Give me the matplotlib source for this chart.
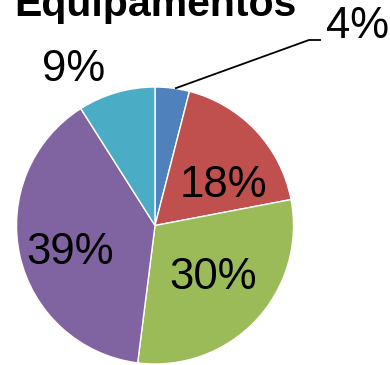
import matplotlib
matplotlib.use("Agg")
import matplotlib.pyplot as plt
import numpy as np

# data
categories = ["A", "B", "C", "D", "E"]
shares = [4, 18, 30, 39, 9]
labels = ["4%", "18%", "30%", "39%", "9%"]
colors = ["#4F81BD", "#C0504D", "#9BBB59", "#8064A2", "#4BACC6"]
title = "Equipamentos"

W, H = 390, 365
fig = plt.figure(figsize=(W / 100, H / 100), dpi=100)
ax = fig.add_axes([0, 0, 1, 1])

cx, cy, R = 155, H - 225.5, 138.5
wedges, _ = ax.pie(shares, colors=colors, startangle=90, counterclock=False,
                   center=(cx, cy), radius=R, frame=True,
                   wedgeprops=dict(edgecolor="white", linewidth=1))
ax.set_xlim(0, W)
ax.set_ylim(0, H)
ax.set_aspect("equal")
ax.axis("off")

font = ["Liberation Sans", "DejaVu Sans"]
# label placement: (distance as fraction of radius, angle in degrees)
place = [None, (0.57, 30.5), (0.56, -42), (0.64, 197.5), (1.27, 117.5)]
for lab, pos in zip(labels, place):
    if pos is None:
        continue
    r, a = pos
    ax.text(cx + r * R * np.cos(np.radians(a)), cy + r * R * np.sin(np.radians(a)),
            lab, ha="center", va="center", fontsize=31.5, family=font, color="black")

# leader line for the small slice
a0 = np.radians(81.7)
p0 = (cx + R * np.cos(a0), cy + R * np.sin(a0))
ax.plot([p0[0], 309, 321], [p0[1], H - 40, H - 40], color="black", lw=1.3,
        solid_capstyle="butt")
ax.text(326, H - 27, labels[0], ha="left", va="center", fontsize=31.5,
        family=font, color="black")

ax.text(155, H - 16, title, ha="center", va="baseline", fontsize=29.5,
        fontweight="bold", family=font, color="black")

fig.savefig("out.png", dpi=100)
